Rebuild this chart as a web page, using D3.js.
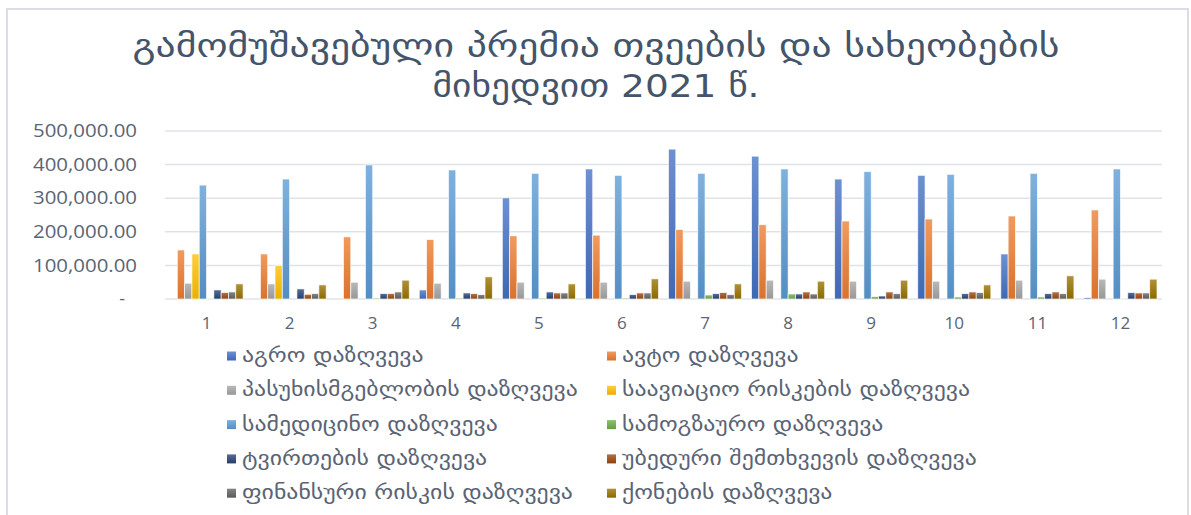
<!DOCTYPE html>
<html>
<head>
<meta charset="utf-8">
<script src="https://cdn.jsdelivr.net/npm/d3@7"></script>
<style>
  html, body { margin: 0; padding: 0; background: #fff; }
  svg { display: block; }
</style>
</head>
<body>
<div id="chart"></div>
<script>
const titleLines = ["გამომუშავებული პრემია თვეების და სახეობების", "მიხედვით 2021 წ."];
const months = ["1","2","3","4","5","6","7","8","9","10","11","12"];
const seriesNames = [
  "აგრო დაზღვევა",
  "ავტო დაზღვევა",
  "პასუხისმგებლობის დაზღვევა",
  "საავიაციო რისკების დაზღვევა",
  "სამედიცინო დაზღვევა",
  "სამოგზაურო დაზღვევა",
  "ტვირთების დაზღვევა",
  "უბედური შემთხვევის დაზღვევა",
  "ფინანსური რისკის დაზღვევა",
  "ქონების დაზღვევა"
];
const agro      = [0, 0, 0, 27000, 301000, 387000, 446000, 425000, 357000, 368000, 134000, 4000];
const auto      = [146000, 134000, 185000, 177000, 188000, 190000, 207000, 221000, 232000, 238000, 247000, 265000];
const liability = [47000, 45000, 50000, 47000, 50000, 50000, 53000, 56000, 53000, 53000, 56000, 59000];
const aviation  = [134000, 100000, 0, 0, 0, 0, 0, 0, 0, 0, 0, 0];
const medical   = [339000, 357000, 399000, 384000, 374000, 368000, 374000, 387000, 379000, 371000, 374000, 387000];
const travel    = [2000, 0, 3000, 3000, 3000, 3000, 12000, 15000, 7000, 6000, 6000, 2000];
const cargo     = [27000, 30000, 16000, 18000, 21000, 13000, 16000, 15000, 9000, 16000, 16000, 19000];
const accident  = [19000, 14000, 16000, 16000, 18000, 18000, 19000, 21000, 21000, 21000, 21000, 18000];
const financial = [21000, 16000, 21000, 13000, 18000, 18000, 13000, 15000, 16000, 19000, 16000, 18000];
const property  = [45000, 42000, 56000, 66000, 45000, 60000, 45000, 53000, 56000, 42000, 69000, 59000];
const yTicks = [0, 100000, 200000, 300000, 400000, 500000];

const seriesValues = [agro, auto, liability, aviation, medical, travel, cargo, accident, financial, property];
const colors = ["#4472C4","#ED7D31","#A5A5A5","#FFC000","#5B9BD5","#70AD47","#264478","#9E480E","#636363","#997300"];

const W = 1191, H = 515;
const svg = d3.select("#chart").append("svg").attr("width", W).attr("height", H);

// gradients
const defs = svg.append("defs");
colors.forEach((c, i) => {
  const g = defs.append("linearGradient").attr("id", "g" + i)
    .attr("x1", 0).attr("y1", 0).attr("x2", 0).attr("y2", 1);
  g.append("stop").attr("offset", "0%").attr("stop-color", d3.interpolateRgb(c, "#ffffff")(0.22));
  g.append("stop").attr("offset", "100%").attr("stop-color", d3.color(c).darker(0.25));
});

// outer frame
svg.append("rect").attr("x", 7).attr("y", 9).attr("width", 1181).attr("height", 520)
  .attr("fill", "#fff").attr("stroke", "#dadee4").attr("stroke-width", 2);

const georgianFont = "'DejaVu Sans Condensed', 'DejaVu Sans', sans-serif";
const numFont = "'Open Sans', 'Noto Sans', 'Liberation Sans', sans-serif";

// title
const title = svg.append("g");
const t1 = title.append("text").attr("x", 596).attr("y", 57).attr("text-anchor", "middle")
  .attr("font-family", georgianFont).attr("font-size", 32).attr("fill", "#44546A").text(titleLines[0]);
const t2 = title.append("text").attr("x", 596).attr("y", 97).attr("text-anchor", "middle")
  .attr("font-family", georgianFont).attr("font-size", 32).attr("fill", "#44546A").text(titleLines[1]);
[[t1, 927], [t2, 327]].forEach(([t, target]) => {
  t.attr("textLength", target).attr("lengthAdjust", "spacingAndGlyphs");
});

const plotL = 165, plotR = 1162, plotT = 131, plotB = 299;
const y = d3.scaleLinear().domain([0, 500000]).range([plotB, plotT]);
const x0 = d3.scaleBand().domain(months).range([plotL, plotR]).padding(0);
const x1 = d3.scaleBand().domain(d3.range(seriesNames.length)).range([5, x0.bandwidth() - 5]).padding(0);

// gridlines
svg.append("g").selectAll("line").data(yTicks).join("line")
  .attr("x1", plotL).attr("x2", plotR)
  .attr("y1", d => y(d)).attr("y2", d => y(d))
  .attr("stroke", "#dfe3e8").attr("stroke-width", 1.5);

// y axis
const yAxis = d3.axisLeft(y).tickValues(yTicks)
  .tickFormat(d => d === 0 ? "-" : d3.format(",.2f")(d)).tickSize(0).tickPadding(0);
const ya = svg.append("g").attr("transform", `translate(${plotL - 28},0)`).call(yAxis);
ya.select(".domain").remove();
ya.selectAll("text").attr("font-family", numFont).attr("font-size", 18).attr("fill", "#5a6474")
  .attr("dx", d => d === 0 ? -12 : 0)
  .each(function(d) {
    if (d !== 0) d3.select(this).attr("textLength", 104).attr("lengthAdjust", "spacingAndGlyphs");
  });

// x axis
const xAxis = d3.axisBottom(x0).tickSize(0).tickPadding(0);
const xa = svg.append("g").attr("transform", `translate(0,${plotB + 18})`).call(xAxis);
xa.select(".domain").remove();
xa.selectAll("text").attr("font-family", numFont).attr("font-size", 17).attr("fill", "#5a6474");

// bars
const groups = svg.append("g").selectAll("g").data(months).join("g")
  .attr("transform", d => `translate(${x0(d)},0)`);
groups.selectAll("rect").data((m, mi) => seriesValues.map((vals, si) => ({ si, v: vals[mi] })))
  .join("rect")
  .attr("x", d => x1(d.si))
  .attr("width", x1.bandwidth())
  .attr("y", d => y(d.v))
  .attr("height", d => Math.max(0, plotB - y(d.v)))
  .attr("fill", d => `url(#g${d.si})`)
  .attr("stroke", "rgba(255,255,255,0.8)").attr("stroke-width", 0.8);

// legend
const legend = svg.append("g");
const colX = [227, 607];
const rowY0 = 356, rowDy = 34.3;
seriesNames.forEach((name, i) => {
  const cx = colX[i % 2], cy = rowY0 + Math.floor(i / 2) * rowDy;
  legend.append("rect").attr("x", cx).attr("y", cy - 4.5).attr("width", 9).attr("height", 9)
    .attr("fill", `url(#g${i})`);
  const t = legend.append("text").attr("x", cx + 15).attr("y", cy + 6)
    .attr("font-family", georgianFont).attr("font-size", 20).attr("fill", "#5a6474").text(name);
  const len = t.node().getComputedTextLength();
  if (len > 0) t.attr("textLength", len * 1.32).attr("lengthAdjust", "spacingAndGlyphs");
});
</script>
</body>
</html>
